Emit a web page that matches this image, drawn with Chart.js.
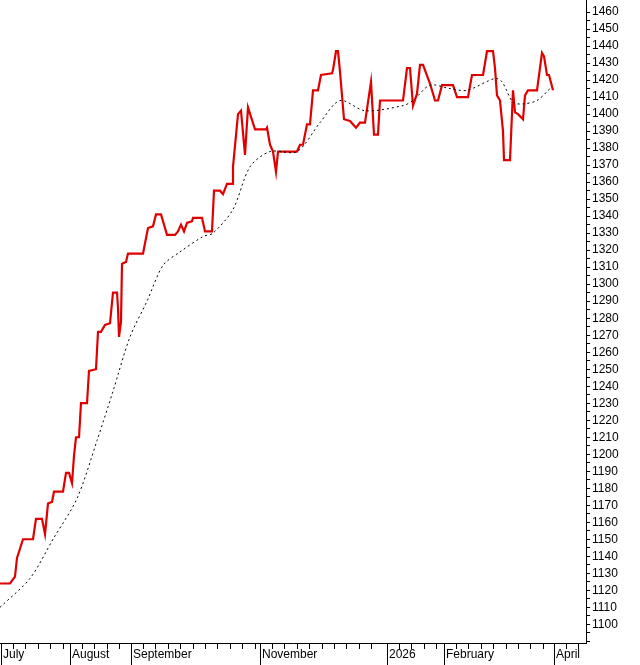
<!DOCTYPE html>
<html lang="en">
<head>
    <meta charset="UTF-8">
    <title>Price chart</title>
    <script src="https://cdn.jsdelivr.net/npm/chart.js"></script>
    <style>
        body { margin: 0; padding: 0; background: #fff; }
        #wrap { width: 640px; height: 665px; }
    </style>
</head>
<body>
    <div id="wrap"><canvas id="priceChart" width="640" height="665"></canvas></div>

    <script>
        // red price line: time position and value
        const priceX = [0,10,15,17,23,33,36,42,45,48,52,54,63,66,69,72,74,76,79,81,87,89,96,98,101,105,110,113,117,118,119,121,122,126,128,143,146,148,153,156,161,167,175,178,181,184,187,192,193,202,205,212,214,220,223,227,232,233,238,241,245,248,255,266,267,270,273,276,278,297,300,303,307,310,313,318,321,332,333,336,338,340,344,350,356,360,365,371,374,378,380,403,407,410,413,417,420,423,430,435,438,442,453,457,468,472,483,487,493,495,497,500,503,504,510,513,515,518,523,525,528,537,542,544,547,549,553];
        const priceY = [1124,1124,1128,1139,1150,1150,1162,1162,1153,1171,1172,1178,1178,1189,1189,1183,1199,1210,1210,1230,1230,1249,1250,1272,1272,1276,1277,1295,1295,1286,1269,1278,1312,1313,1318,1318,1327,1333,1334,1341,1341,1329,1329,1331,1335,1331,1336,1337,1339,1339,1331,1331,1355,1355,1353,1359,1359,1369,1400,1402,1376,1404,1391,1391,1392,1382,1378,1366,1378,1378,1382,1382,1394,1394,1414,1414,1423,1424,1426,1437,1437,1425,1397,1396,1392,1395,1395,1419,1388,1388,1408,1408,1427,1427,1405,1412,1429,1429,1418,1408,1408,1417,1417,1410,1410,1423,1423,1437,1437,1427,1411,1408,1390,1373,1373,1414,1401,1400,1397,1411,1414,1414,1436,1434,1423,1423,1414];

        // dotted moving average
        const avgX = [0,30,53,77,97,113,130,147,163,180,203,213,233,250,270,297,320,340,365,403,413,430,450,467,495,502,513,523,537,550];
        const avgY = [1110,1127,1150,1174,1208,1237,1269,1290,1311,1319,1328,1330,1344,1369,1378,1378,1395,1408,1402,1405,1408,1417,1415,1414,1421,1419,1407,1406,1408,1415];

        const monthLabels = ['July','August','September','November','2026','February','April'];
        const monthPos = [1,70,131,260,387,444,554];

        const X_MAX = 586;

        const axisDeco = {
            id: 'axisDeco',
            afterDraw(chart) {
                const ctx = chart.ctx;
                const area = chart.chartArea;
                const xs = chart.scales.x;
                ctx.save();
                ctx.strokeStyle = '#000';
                ctx.lineWidth = 1;
                ctx.beginPath();
                ctx.moveTo(0, area.bottom + 0.5);
                ctx.lineTo(area.right + 0.5, area.bottom + 0.5);
                ctx.moveTo(area.right + 0.5, 0);
                ctx.lineTo(area.right + 0.5, area.bottom + 1);
                // minor weekly ticks
                for (let i = 0; i < monthPos.length; i++) {
                    const a = monthPos[i];
                    const b = i + 1 < monthPos.length ? monthPos[i + 1] : X_MAX;
                    for (let v = a + 12; v < b - 4; v += 12.4) {
                        const px = Math.round(xs.getPixelForValue(v)) + 0.5;
                        ctx.moveTo(px, area.bottom);
                        ctx.lineTo(px, area.bottom + 6);
                    }
                }
                monthPos.forEach(v => {
                    const px = Math.round(xs.getPixelForValue(v)) + 0.5;
                    ctx.moveTo(px, area.bottom);
                    ctx.lineTo(px, area.bottom + 22);
                });
                ctx.stroke();
                ctx.fillStyle = '#000';
                ctx.font = '12px "Liberation Sans", Arial, sans-serif';
                ctx.textBaseline = 'middle';
                monthLabels.forEach((t, i) => {
                    ctx.fillText(t, xs.getPixelForValue(monthPos[i]) + 2, area.bottom + 12);
                });
                ctx.restore();
            }
        };

        new Chart(document.getElementById('priceChart'), {
            type: 'line',
            data: {
                datasets: [
                    {
                        data: avgX.map((x, i) => ({ x: x, y: avgY[i] })),
                        borderColor: '#000',
                        borderWidth: 1,
                        borderDash: [2, 3],
                        pointRadius: 0,
                        tension: 0.3
                    },
                    {
                        data: priceX.map((x, i) => ({ x: x, y: priceY[i] })),
                        borderColor: '#e00000',
                        borderWidth: 2.2,
                        pointRadius: 0,
                        tension: 0
                    }
                ]
            },
            options: {
                responsive: false,
                animation: false,
                layout: { padding: 0 },
                plugins: { legend: { display: false }, tooltip: { enabled: false } },
                scales: {
                    x: {
                        type: 'linear',
                        min: 0,
                        max: X_MAX,
                        ticks: { display: false },
                        grid: { display: false },
                        border: { display: false },
                        afterFit: s => { s.height = 22; }
                    },
                    y: {
                        position: 'right',
                        min: 1089,
                        max: 1461.7,
                        afterBuildTicks: s => {
                            const t = [];
                            for (let v = 1090; v <= 1460; v += 5) t.push({ value: v });
                            s.ticks = t;
                        },
                        ticks: {
                            color: '#000',
                            padding: 2,
                            autoSkip: false,
                            font: { family: '"Liberation Sans", Arial, sans-serif', size: 12 },
                            callback: v => (v % 10 === 0 && v >= 1100) ? String(v) : ''
                        },
                        grid: {
                            drawOnChartArea: false,
                            color: '#000',
                            tickLength: 4
                        },
                        border: { display: false },
                        afterFit: s => { s.width = 54; }
                    }
                }
            },
            plugins: [axisDeco]
        });
    </script>
</body>
</html>
